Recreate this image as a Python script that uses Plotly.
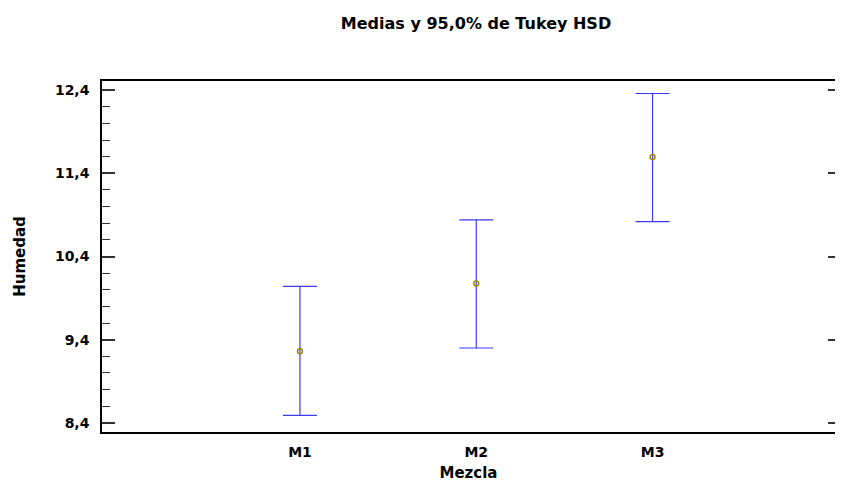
import plotly.graph_objects as go

categories = ["M1", "M2", "M3"]
means = [9.26, 10.074, 11.596]
lower = [8.49, 9.30, 10.82]
upper = [10.04, 10.84, 12.36]
ytick_vals = [8.4, 9.4, 10.4, 11.4, 12.4]
ytick_text = ["8,4", "9,4", "10,4", "11,4", "12,4"]

err_plus = [u - m for u, m in zip(upper, means)]
err_minus = [m - l for m, l in zip(means, lower)]

FONT = "DejaVu Sans"
yrange = [8.29, 12.51]
W = 827
H = 474

fig = go.Figure()
fig.add_trace(go.Scatter(
    x=categories, y=means, mode="markers",
    marker=dict(symbol="circle-open", size=5, color="#9a8c00", line=dict(width=1.5)),
    error_y=dict(type="data", symmetric=False, array=err_plus, arrayminus=err_minus,
                 color="#3a3aff", thickness=1.2, width=17),
    showlegend=False,
))
fig.add_trace(go.Scatter(x=[None], y=[None], yaxis="y2", showlegend=False, hoverinfo="skip"))

fig.update_layout(
    width=W, height=H,
    margin=dict(l=94, r=0, t=73, b=50, autoexpand=False),
    paper_bgcolor="white", plot_bgcolor="white",
    font=dict(family=FONT, color="black", size=14),
    title=dict(text="<b>Medias y 95,0% de Tukey HSD</b>", x=(468 - 94) / (W - 94), xref="paper",
               xanchor="center", y=1 - 15 / H, yref="container", yanchor="middle",
               font=dict(family=FONT, size=16, color="black")),
    xaxis=dict(
        type="category", range=[-1.123, 3.035], automargin=False,
        showline=True, linecolor="black", linewidth=1.5, mirror=True,
        ticks="", showgrid=False, zeroline=False, ticklabelstandoff=6,
        tickfont=dict(family=FONT, size=14, color="black", weight="bold"),
        title=dict(text="<b>Mezcla</b>", font=dict(family=FONT, size=15, color="black"), standoff=10),
    ),
    yaxis=dict(
        range=yrange, tickvals=ytick_vals, ticktext=ytick_text, automargin=False,
        showline=True, linecolor="black", linewidth=1.5, mirror=False,
        ticks="inside", ticklen=13, tickwidth=1.5, tickcolor="#333333",
        showgrid=False, zeroline=False, ticklabelstandoff=8,
        tickfont=dict(family=FONT, size=14, color="black", weight="bold"),
        minor=dict(ticks="inside", ticklen=8, tickwidth=1.2, tickcolor="#333333",
                   tick0=8.4, dtick=0.2, showgrid=False),
        title=dict(text="<b>Humedad</b>", font=dict(family=FONT, size=15, color="black"), standoff=26),
    ),
    yaxis2=dict(
        overlaying="y", side="right", range=yrange, tickvals=ytick_vals, automargin=False,
        showticklabels=False, showline=False, showgrid=False, zeroline=False,
        ticks="inside", ticklen=7, tickwidth=1.5, tickcolor="#333333",
    ),
)

fig.write_html("out.html")
